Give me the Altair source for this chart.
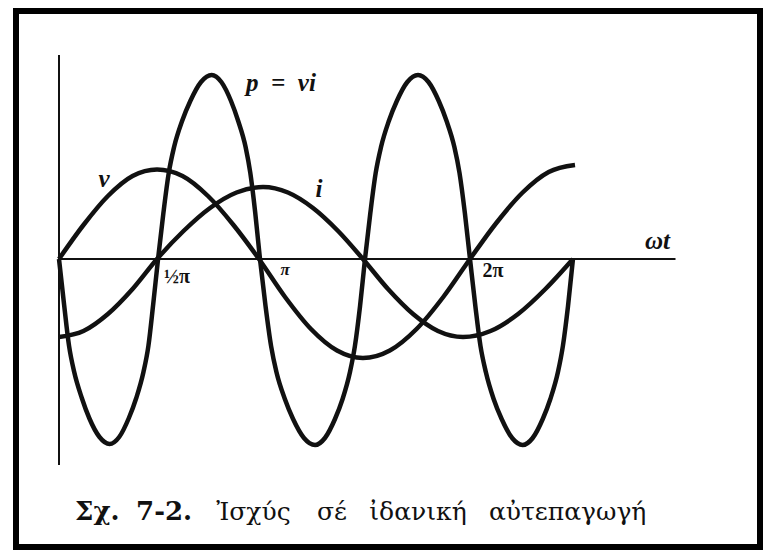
import altair as alt
import pandas as pd

# ωt in units of π ; amplitudes in arbitrary units
v_x = [0, 0.119, 0.238, 0.358, 0.477, 0.601, 0.725, 0.849, 0.973, 1.100, 1.226,
       1.353, 1.479, 1.610, 1.740, 1.870, 2.000, 2.128, 2.256, 2.383, 2.511]
v_y = [0, 0.34, 0.63, 0.83, 0.895, 0.83, 0.63, 0.34, 0, -0.38, -0.70,
       -0.915, -0.99, -0.915, -0.70, -0.38, 0, 0.36, 0.665, 0.87, 0.94]

i_x = [0, 0.119, 0.238, 0.358, 0.477, 0.606, 0.735, 0.864, 0.993, 1.114, 1.236,
       1.358, 1.479, 1.601, 1.723, 1.844, 1.966, 2.100, 2.234, 2.367, 2.501]
i_y = [-0.78, -0.72, -0.55, -0.30, 0, 0.28, 0.51, 0.665, 0.72, 0.665, 0.51,
       0.28, 0, -0.30, -0.55, -0.72, -0.78, -0.72, -0.55, -0.30, 0]

p_x = [0, 0.025, 0.049, 0.074, 0.111, 0.147, 0.197, 0.246,
       0.293, 0.340, 0.376, 0.411, 0.435, 0.458, 0.482,
       0.508, 0.534, 0.560, 0.599, 0.639, 0.691, 0.743,
       0.790, 0.837, 0.872, 0.908, 0.931, 0.955, 0.978,
       1.005, 1.032, 1.058, 1.099, 1.139, 1.192, 1.246,
       1.294, 1.343, 1.380, 1.416, 1.440, 1.465, 1.489,
       1.515, 1.541, 1.567, 1.605, 1.644, 1.695, 1.747,
       1.798, 1.848, 1.886, 1.924, 1.949, 1.975, 2.000,
       2.026, 2.051, 2.077, 2.115, 2.154, 2.205, 2.256,
       2.305, 2.354, 2.391, 2.428, 2.452, 2.477, 2.501]
p_y = [0, -0.46, -0.87, -1.13, -1.39, -1.59, -1.78, -1.85,
       -1.78, -1.59, -1.39, -1.13, -0.87, -0.46, 0,
       0.46, 0.86, 1.12, 1.38, 1.58, 1.77, 1.84,
       1.77, 1.58, 1.38, 1.12, 0.86, 0.46, 0,
       -0.47, -0.87, -1.13, -1.40, -1.60, -1.79, -1.86,
       -1.79, -1.60, -1.40, -1.13, -0.87, -0.47, 0,
       0.46, 0.86, 1.12, 1.38, 1.58, 1.77, 1.84,
       1.77, 1.58, 1.38, 1.12, 0.86, 0.46, 0,
       -0.47, -0.87, -1.13, -1.40, -1.60, -1.79, -1.86,
       -1.79, -1.60, -1.40, -1.13, -0.87, -0.47, 0]

# curve labels
curve_labels = ["v", "i", "p\u2002=\u2002vi", "ωt"]
curve_label_x = [0.219, 1.265, 1.080, 2.912]
curve_label_y = [0.80, 0.70, 1.76, 0.18]

# tick labels on the ωt axis
tick_labels = ["½π", "2π"]
tick_x = [0.574, 2.112]
tick_y = [-0.18, -0.12]
pi_label = ["π"]
pi_x = [1.10]
pi_y = [-0.11]

# caption
cap_bold = ["Σχ.", "7-2."]
cap_bold_x = [0.078, 0.375]
cap_words = ["Ἰσχύς", "σέ", "ἰδανική", "αὐτεπαγωγή"]
cap_words_x = [0.765, 1.255, 1.510, 2.092]
cap_y = -2.61

W, H = 755, 542
xs = alt.Scale(domain=[0, 2], range=[51, 462], nice=False, zero=False)
ys = alt.Scale(domain=[0, 1], range=[251, 151], nice=False, zero=False)

X = lambda f: alt.X(f, scale=xs, axis=None)
Y = lambda f: alt.Y(f, scale=ys, axis=None)

rows = []
for name, xx, yy in (("v", v_x, v_y), ("i", i_x, i_y), ("p", p_x, p_y)):
    for k, (a, b) in enumerate(zip(xx, yy)):
        rows.append({"curve": name, "k": k, "wt": a, "val": b})
curves_df = pd.DataFrame(rows)

curves = alt.Chart(curves_df).mark_line(
    interpolate="monotone", strokeWidth=4.5, color="#111", strokeJoin="round"
).encode(x=X("wt:Q"), y=Y("val:Q"), detail="curve:N", order="k:Q")

vaxis = alt.Chart(pd.DataFrame({"wt": [0], "top": [2.04], "bot": [-2.06]})).mark_rule(
    strokeWidth=2, color="#111"
).encode(x=X("wt:Q"), y=Y("top:Q"), y2="bot:Q")
haxis = alt.Chart(pd.DataFrame({"wt": [0], "wt2": [3.0], "val": [0]})).mark_rule(
    strokeWidth=2, color="#111"
).encode(x=X("wt:Q"), x2="wt2:Q", y=Y("val:Q"))

def text_layer(texts, xv, yv, **kw):
    df = pd.DataFrame({"t": texts, "wt": xv, "val": yv})
    return alt.Chart(df).mark_text(color="#111", **kw).encode(
        x=X("wt:Q"), y=Y("val:Q"), text="t:N")

labels = text_layer(curve_labels, curve_label_x, curve_label_y,
                    font="Liberation Serif", fontSize=25, fontStyle="italic",
                    fontWeight="bold", align="center", baseline="middle")
ticks = text_layer(tick_labels, tick_x, tick_y, font="Liberation Serif", fontSize=20,
                   fontWeight="bold", align="center", baseline="middle")
pi_t = text_layer(pi_label, pi_x, pi_y, font="Liberation Serif", fontSize=17,
                  fontStyle="italic", fontWeight="bold", align="center", baseline="middle")
cap_b = text_layer(cap_bold, cap_bold_x, [cap_y] * len(cap_bold), font="DejaVu Serif",
                   fontSize=26, fontWeight="bold", align="left", baseline="alphabetic")
cap_w = text_layer(cap_words, cap_words_x, [cap_y] * len(cap_words), font="DejaVu Serif",
                   fontSize=25, align="left", baseline="alphabetic")

frame = alt.Chart(pd.DataFrame({"a": [0]})).mark_rect(
    filled=False, stroke="#000", strokeWidth=6
).encode(x=alt.value(8), x2=alt.value(752), y=alt.value(3), y2=alt.value(H - 3))

chart = alt.layer(frame, vaxis, haxis, curves, labels, ticks, pi_t, cap_b, cap_w).properties(
    width=W, height=H, autosize=alt.AutoSizeParams(type="none"), padding=0,
    background="white"
).configure_view(stroke=None)

chart.save("out.html", embed_options={"renderer": "svg", "actions": False})
